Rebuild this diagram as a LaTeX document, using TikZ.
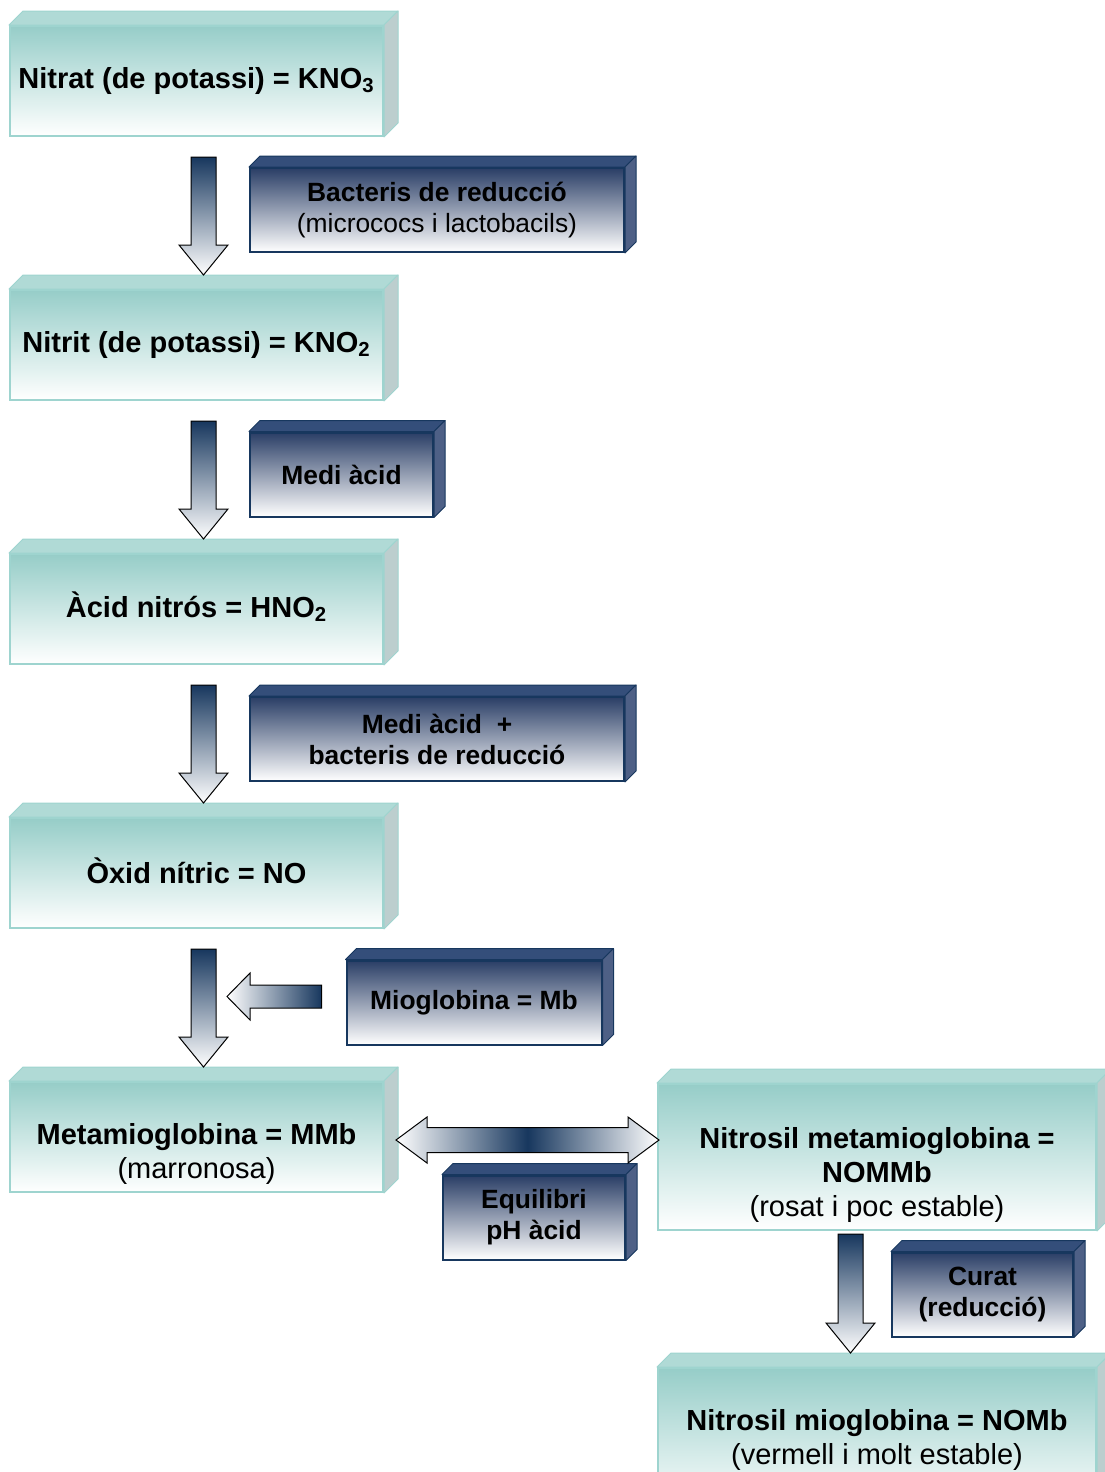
\documentclass[tikz,border=0pt]{standalone}
\usepackage{fontspec}
\setmainfont{Liberation Sans}
\usetikzlibrary{calc}

\definecolor{verdclar}{RGB}{150,205,200}
\definecolor{verdvora}{RGB}{158,212,207}
\definecolor{verdsostre}{RGB}{176,218,214}
\definecolor{verdcostat}{RGB}{188,206,206}
\definecolor{blauvora}{RGB}{23,55,94}
\definecolor{blaufosc}{RGB}{42,62,102}
\definecolor{blausostre}{RGB}{52,78,122}
\definecolor{blaucostat}{RGB}{78,96,134}

% cares de dalt i del costat d'una caixa
\newcommand\relleu[5]{%
  \filldraw[cara,fill=#3,draw=#5] (#1.north west) -- ++(#2,-#2) -- ($(#1.north east)+(#2,-#2)$) -- (#1.north east) -- cycle;
  \filldraw[cara,fill=#4,draw=#5] (#1.north east) -- ++(#2,-#2) -- ($(#1.south east)+(#2,-#2)$) -- (#1.south east) -- cycle;}

% fletxa ample cap avall
\newcommand\fletxavall[2]{%
  \path[fletxa] let \p1=(#1), \p2=(#2) in
    (\x1-6.25pt,\y1) -- (\x1+6.25pt,\y1) -- (\x1+6.25pt,\y2+15pt) -- (\x1+12.25pt,\y2+15pt)
    -- (\x2,\y2) -- (\x1-12.25pt,\y2+15pt) -- (\x1-6.25pt,\y2+15pt) -- cycle;}

% fletxa ample cap a l'esquerra
\newcommand\fletxaesq[2]{%
  \path[fletxah] let \p1=(#1), \p2=(#2) in
    (\x1,\y1+5.75pt) -- (\x2+11.5pt,\y1+5.75pt) -- (\x2+11.5pt,\y1+11.75pt) -- (\x2,\y2)
    -- (\x2+11.5pt,\y1-11.75pt) -- (\x2+11.5pt,\y1-5.75pt) -- (\x1,\y1-5.75pt) -- cycle;}

% fletxa doble (equilibri)
\newcommand\fletxadoble[2]{%
  \path[fletxad] let \p1=(#1), \p2=(#2) in
    (\x1,\y1) -- (\x1+15.5pt,\y1+11.5pt) -- (\x1+15.5pt,\y1+6.25pt) -- (\x2-15.5pt,\y1+6.25pt)
    -- (\x2-15.5pt,\y1+11.5pt) -- (\x2,\y1) -- (\x2-15.5pt,\y1-11.5pt) -- (\x2-15.5pt,\y1-6.25pt)
    -- (\x1+15.5pt,\y1-6.25pt) -- (\x1+15.5pt,\y1-11.5pt) -- cycle;}

\tikzset{
  cara/.style={line width=0.5pt, line join=round},
  compost/.style={draw=verdvora, line width=1pt, top color=verdclar, bottom color=white,
    inner sep=0pt, align=center, font=\fontsize{14.5}{17}\selectfont\bfseries},
  rotul/.style={align=center, font=\fontsize{14.5}{17}\selectfont\bfseries},
  condicio/.style={draw=blauvora, line width=1pt, top color=blaufosc, bottom color=white,
    inner sep=0pt, align=center, font=\fontsize{13.2}{15.5}\selectfont\bfseries},
  fletxa/.style={draw=black, line width=0.5pt, top color=blauvora, bottom color=white},
  fletxah/.style={draw=black, line width=0.5pt, left color=white, right color=blauvora},
  fletxad/.style={draw=black, line width=0.5pt, left color=white, right color=white, middle color=blauvora},
}

\begin{document}
\begin{tikzpicture}[x=0.5pt,y=-0.5pt]
\useasboundingbox (0,0) rectangle (1104,1472);

% compostos
\node[compost, minimum width=186.5pt, minimum height=55pt] (n1) at (196.5,81) {Nitrat (de potassi) = KNO\textsubscript{3}};
\node[compost, minimum width=186.5pt, minimum height=55pt] (n2) at (196.5,345) {Nitrit (de potassi) = KNO\textsubscript{2}};
\node[compost, minimum width=186.5pt, minimum height=55pt] (n3) at (196.5,609) {\smash{À}cid nitrós = HNO\textsubscript{2}};
\node[compost, minimum width=186.5pt, minimum height=55pt] (n4) at (196.5,873) {\smash{Ò}xid nítric = NO};
\node[compost, minimum width=186.5pt, minimum height=55pt,
  label={[rotul,yshift=-8.5pt]center:Metamioglobina = MMb\\\mdseries (marronosa)}] (n5) at (196.5,1137) {};
\node[compost, minimum width=219pt, minimum height=73pt,
  label={[rotul,yshift=-9pt]center:Nitrosil metamioglobina =\\NOMMb\\\mdseries (rosat i poc estable)}] (n6) at (877,1157) {};
\node[compost, minimum width=219pt, minimum height=72pt] (n7) at (877,1440) {Nitrosil mioglobina = NOMb\\\mdseries (vermell i molt estable)};

\relleu{n1}{14}{verdsostre}{verdcostat}{verdvora}
\relleu{n2}{14}{verdsostre}{verdcostat}{verdvora}
\relleu{n3}{14}{verdsostre}{verdcostat}{verdvora}
\relleu{n4}{14}{verdsostre}{verdcostat}{verdvora}
\relleu{n5}{14}{verdsostre}{verdcostat}{verdvora}
\relleu{n6}{14}{verdsostre}{verdcostat}{verdvora}
\relleu{n7}{14}{verdsostre}{verdcostat}{verdvora}

% condicions
\node[condicio, minimum width=187pt, minimum height=42pt] (ca) at (437,210) {Bacteris de reducció\\\mdseries (micrococs i lactobacils)};
\node[condicio, minimum width=91.5pt, minimum height=42pt] (cb) at (341.5,474.5) {Medi àcid};
\node[condicio, minimum width=187pt, minimum height=42pt] (cc) at (437,739) {Medi àcid \ +\\bacteris de reducció};
\node[condicio, minimum width=127.5pt, minimum height=42pt] (cd) at (474,1002.5) {Mioglobina = Mb};
\node[condicio, minimum width=91pt, minimum height=42pt] (ce) at (534,1217.5) {Equilibri\\pH àcid};
\node[condicio, minimum width=90.5pt, minimum height=42pt] (cf) at (982.5,1294.5) {Curat\\(reducció)};

\relleu{ca}{11}{blausostre}{blaucostat}{blauvora}
\relleu{cb}{11}{blausostre}{blaucostat}{blauvora}
\relleu{cc}{11}{blausostre}{blaucostat}{blauvora}
\relleu{cd}{11}{blausostre}{blaucostat}{blauvora}
\relleu{ce}{11}{blausostre}{blaucostat}{blauvora}
\relleu{cf}{11}{blausostre}{blaucostat}{blauvora}

% fletxes
\coordinate (d4) at ($(n4.south)+(7,20)$);
\fletxavall{$(n1.south)+(7,20)$}{$(n2.north)+(7,-14)$}
\fletxavall{$(n2.south)+(7,20)$}{$(n3.north)+(7,-14)$}
\fletxavall{$(n3.south)+(7,20)$}{$(n4.north)+(7,-14)$}
\fletxavall{d4}{$(n5.north)+(7,-14)$}
\fletxavall{$(n6.south)+(-26.5,3)$}{$(n7.north)+(-26.5,-14)$}
\fletxaesq{$(cd.west)+(-24,-6)$}{$(cd.west -| d4)+(23.5,-6)$}
\fletxadoble{$(n5.east)+(12,3)$}{$(n6.west)+(2,-17)$}

\end{tikzpicture}
\end{document}
